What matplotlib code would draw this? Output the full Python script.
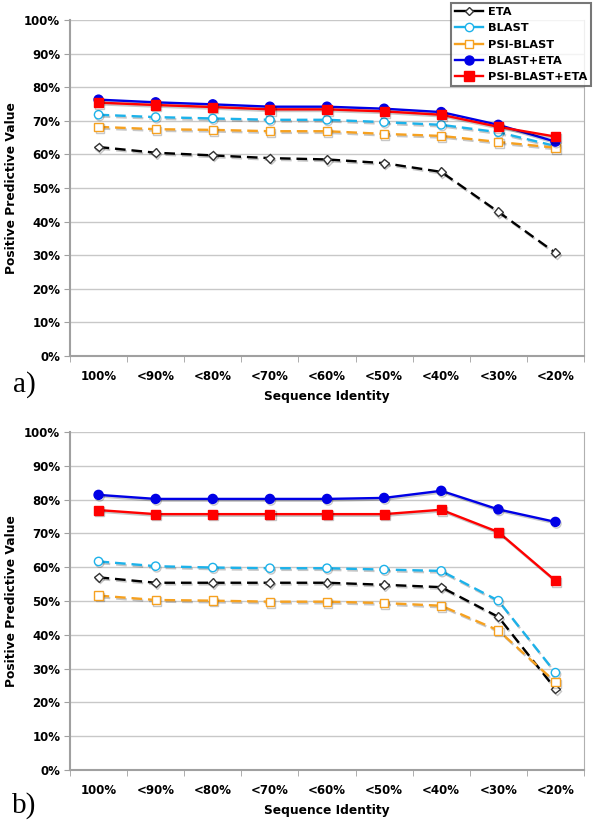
import numpy as np
import matplotlib
matplotlib.use("Agg")
import matplotlib.pyplot as plt
import matplotlib.patheffects as pe
from matplotlib.lines import Line2D

plt.rcParams['font.family'] = 'DejaVu Sans'

categorias = ["100%", "<90%", "<80%", "<70%", "<60%", "<50%", "<40%", "<30%", "<20%"]
series = ["ETA", "BLAST", "PSI-BLAST", "BLAST+ETA", "PSI-BLAST+ETA"]

# painel a)
eta_a = [62.2, 60.5, 59.7, 58.9, 58.5, 57.4, 54.8, 42.9, 30.7]
blast_a = [71.8, 71.1, 70.7, 70.3, 70.3, 69.6, 68.8, 66.6, 62.5]
psi_a = [68.2, 67.5, 67.3, 66.9, 66.9, 66.1, 65.5, 63.7, 62.0]
blast_eta_a = [76.3, 75.5, 74.9, 74.2, 74.2, 73.6, 72.6, 68.8, 63.8]
psi_eta_a = [75.4, 74.7, 74.1, 73.4, 73.4, 72.8, 71.8, 68.2, 65.3]

# painel b)
eta_b = [57.0, 55.4, 55.4, 55.4, 55.4, 54.8, 54.1, 45.3, 24.0]
blast_b = [61.7, 60.3, 59.9, 59.7, 59.7, 59.3, 58.9, 50.1, 28.8]
psi_b = [51.6, 50.3, 50.1, 49.8, 49.8, 49.4, 48.6, 41.3, 26.0]
blast_eta_b = [81.4, 80.2, 80.2, 80.2, 80.2, 80.5, 82.6, 77.1, 73.4]
psi_eta_b = [76.9, 75.7, 75.7, 75.7, 75.7, 75.7, 77.0, 70.4, 56.0]

estilos = [
    dict(color="black", ls=(0, (4.5, 2.5)), marker="D", ms=4.5, mfc="white", mec="#333333", mew=1.0),
    dict(color="#1cb2ea", ls=(0, (4.5, 2.5)), marker="o", ms=6, mfc="white", mec="#1cb2ea", mew=1.0),
    dict(color="#f6a120", ls=(0, (4.5, 2.5)), marker="s", ms=6, mfc="white", mec="#f6a120", mew=1.0),
    dict(color="#0000e6", ls="-", marker="o", ms=6.5, mfc="#0000e6", mec="#0000e6"),
    dict(color="#ff0000", ls="-", marker="s", ms=6.5, mfc="#ff0000", mec="#ff0000"),
]

fig = plt.figure(figsize=(6, 8.32), dpi=100)
ax1 = fig.add_axes([70/600, 1-356/832, 514/600, 336/832])
ax2 = fig.add_axes([70/600, 1-770/832, 514/600, 338/832])

x = np.arange(len(categorias))
sombra = [pe.SimpleLineShadow(offset=(0.8, -1.2), alpha=0.22), pe.Normal()]


def desenhar(ax, dados, letra, letra_y):
    for vals, st in zip(dados, estilos):
        ax.plot(x, vals, lw=1.7, zorder=3, path_effects=sombra, **st)
    ax.set_xlim(-0.5, len(categorias) - 0.5)
    ax.set_ylim(0, 100)
    ax.set_yticks(np.arange(0, 101, 10))
    ax.set_yticklabels([f"{v}%" for v in range(0, 101, 10)], fontsize=8.5, fontweight="bold")
    ax.set_xticks(x)
    ax.set_xticklabels(categorias, fontsize=8.5, fontweight="bold")
    ax.set_xticks(np.arange(-0.5, len(categorias)), minor=True)
    ax.tick_params(axis="x", which="major", length=0, pad=10)
    ax.tick_params(axis="x", which="minor", length=4, color="#a0a0a0")
    ax.tick_params(axis="y", length=4, color="#a0a0a0", pad=3)
    ax.grid(axis="y", color="#c8c8c8", lw=1.0)
    ax.set_axisbelow(True)
    for lado in ["left", "bottom"]:
        ax.spines[lado].set_color("#a0a0a0")
        ax.spines[lado].set_linewidth(1.5)
    ax.spines["right"].set_color("#b0b0b0")
    ax.spines["top"].set_visible(False)
    ax.set_xlabel("Sequence Identity", fontsize=8.8, fontweight="bold", labelpad=5)
    ax.set_ylabel("Positive Predictive Value", fontsize=8.8, fontweight="bold")
    ax.yaxis.set_label_coords(-0.102, 0.5)
    ax.text(-0.0895, letra_y, letra, transform=ax.transAxes, fontsize=21,
            family="Liberation Serif", va="center", ha="center")


desenhar(ax1, [eta_a, blast_a, psi_a, blast_eta_a, psi_eta_a], "a)", -0.085)
desenhar(ax2, [eta_b, blast_b, psi_b, blast_eta_b, psi_eta_b], "b)", -0.105)

handles = [Line2D([], [], lw=1.7, **{**st, "ls": "-"}) for st in estilos]
leg = fig.legend(handles, series, loc="upper right", bbox_to_anchor=(591/600, 1-3/832),
                 prop=dict(weight="bold", size=8.2), frameon=True, fancybox=False,
                 handlelength=2.4, labelspacing=0.55, borderpad=0.35, handletextpad=0.45,
                 borderaxespad=0)
leg.get_frame().set_edgecolor("#555555")
leg.get_frame().set_linewidth(1.5)

fig.savefig("out.png", dpi=100)
